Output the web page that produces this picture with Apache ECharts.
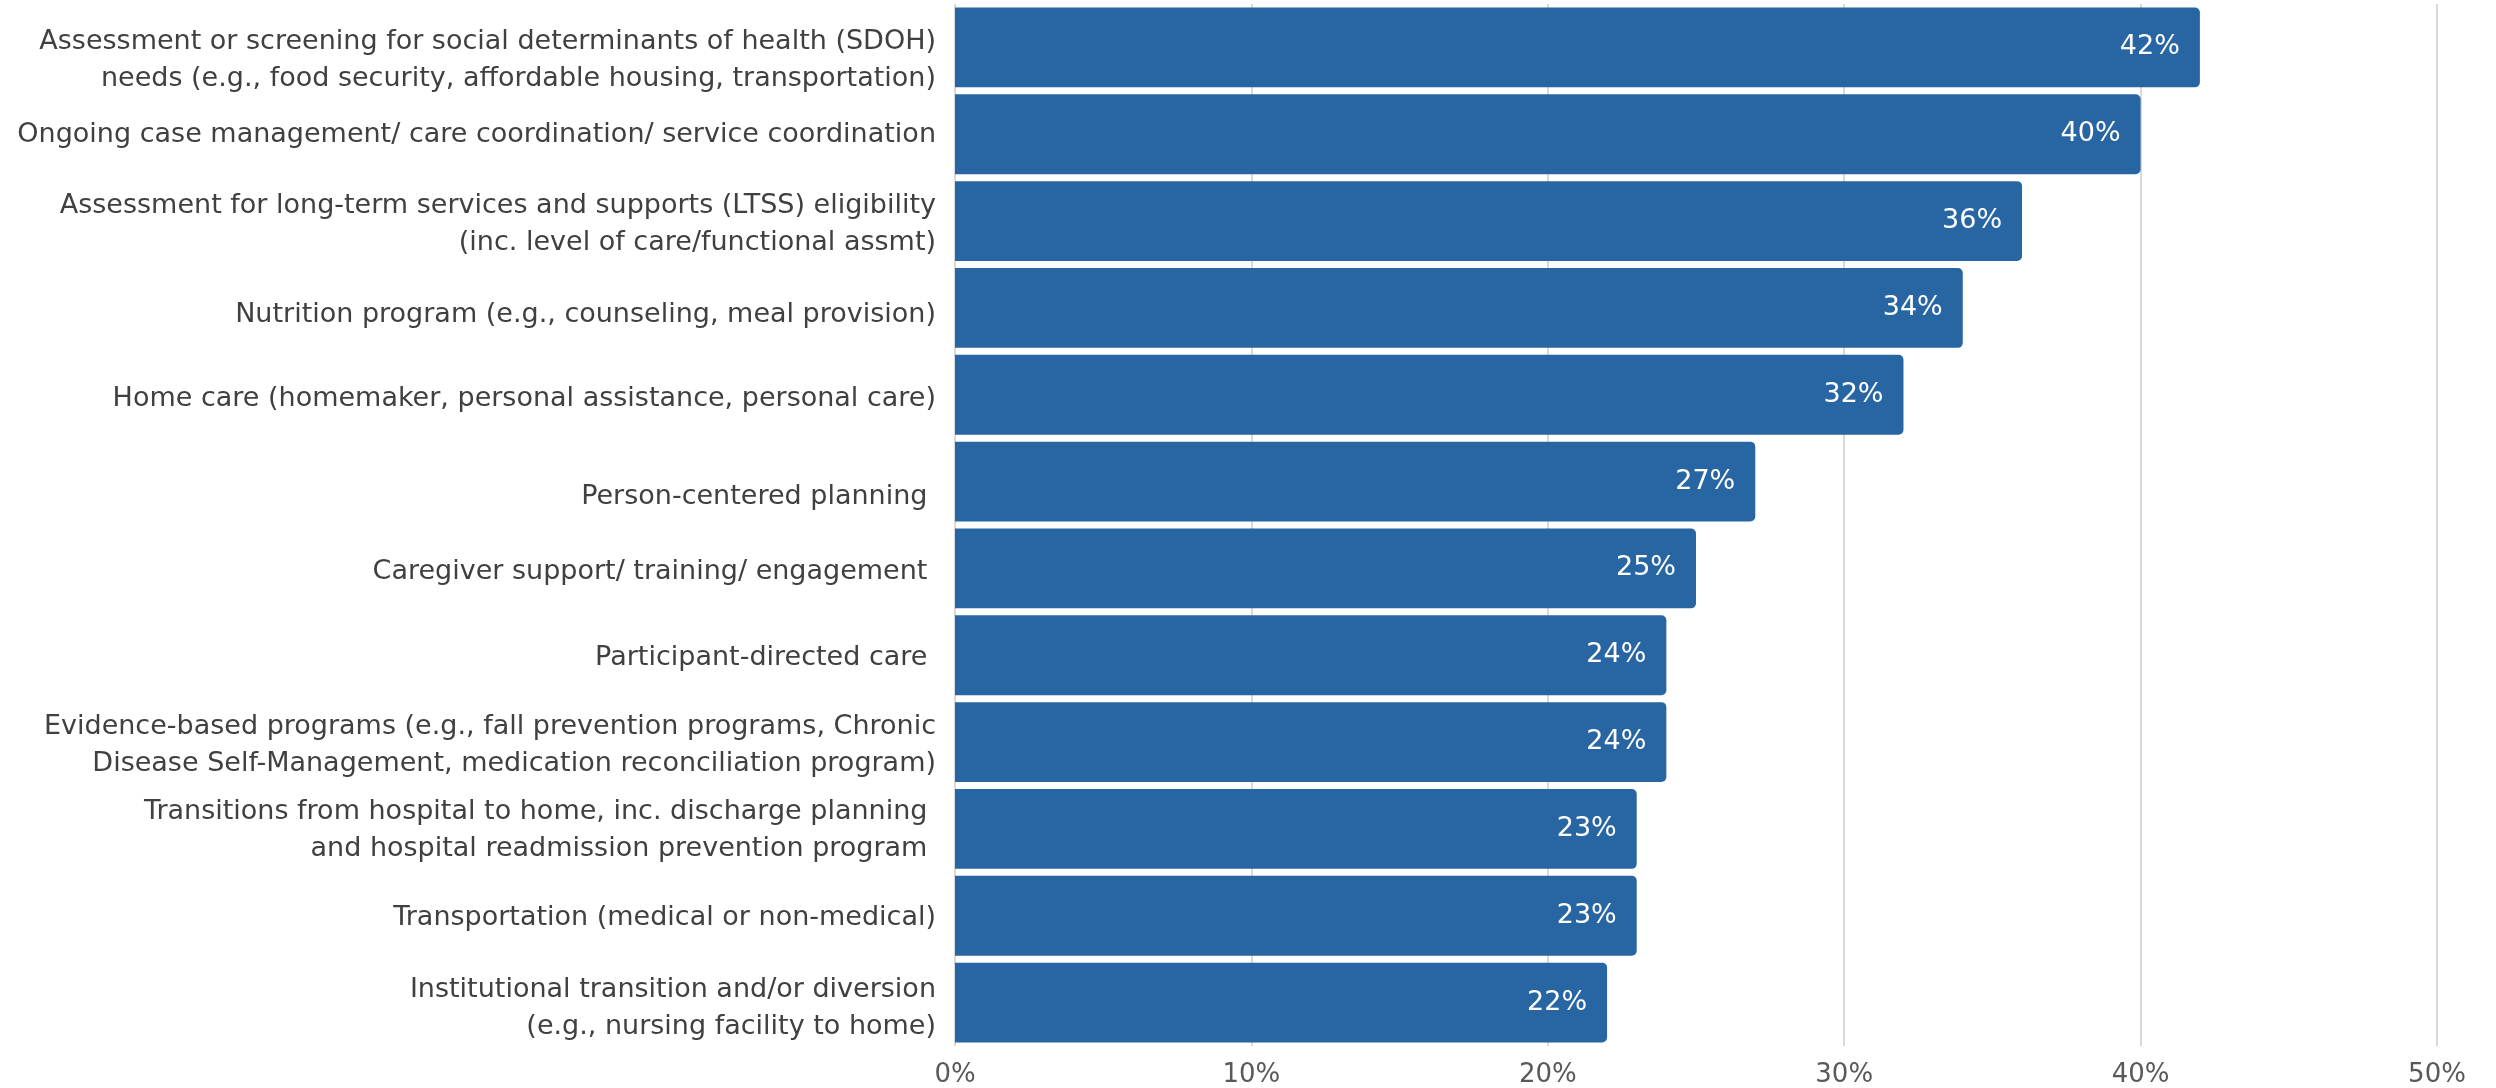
<!DOCTYPE html>
<html>
<head>
<meta charset="utf-8">
<script src="https://cdn.jsdelivr.net/npm/echarts@6/dist/echarts.min.js"></script>
<style>
  html, body { margin: 0; padding: 0; background: #fff; }
  #chart { width: 2496px; height: 1088px; }
</style>
</head>
<body>
<div id="chart"></div>
<script>
// services, top to bottom
var categories = [
    'Assessment or screening for social determinants of health (SDOH)\nneeds (e.g., food security, affordable housing, transportation)',
    'Ongoing case management/ care coordination/ service coordination',
    'Assessment for long-term services and supports (LTSS) eligibility\n(inc. level of care/functional assmt)',
    'Nutrition program (e.g., counseling, meal provision)',
    'Home care (homemaker, personal assistance, personal care)',
    'Person-centered planning ',
    'Caregiver support/ training/ engagement ',
    'Participant-directed care ',
    'Evidence-based programs (e.g., fall prevention programs, Chronic\nDisease Self-Management, medication reconciliation program)',
    'Transitions from hospital to home, inc. discharge planning \nand hospital readmission prevention program ',
    'Transportation (medical or non-medical)',
    'Institutional transition and/or diversion\n(e.g., nursing facility to home)'
];
var values = [42, 40, 36, 34, 32, 27, 25, 24, 24, 23, 23, 22];
var xTicks = [0, 10, 20, 30, 40, 50];

var chart = echarts.init(document.getElementById('chart'));
var fontName = '"DejaVu Sans", sans-serif';

// a few labels sit lower than their bar in the original (px)
var labelDrop = [13, 1, 3, 7, 4, 15, 4, 3, 3, 2, 2, 6];
var richStyles = {t: {}};
labelDrop.forEach(function (d, i) {
    richStyles['g' + i] = {fontSize: 1, lineHeight: d * 2};
});

var option = {
    animation: false,
    grid: {
        left: 955,
        right: 59,
        top: 4,
        bottom: 42,
        containLabel: false,
        outerBoundsMode: 'none'
    },
    xAxis: {
        type: 'value',
        min: xTicks[0],
        max: xTicks[xTicks.length - 1],
        interval: 10,
        axisLine: {show: false},
        axisTick: {show: false},
        splitLine: {lineStyle: {color: '#d9d9d9', width: 2}},
        axisLabel: {
            margin: 16,
            color: '#595959',
            fontFamily: fontName,
            fontSize: 26,
            formatter: '{value}%'
        }
    },
    yAxis: {
        type: 'category',
        inverse: true,
        data: categories,
        axisLine: {show: false},
        axisTick: {show: false},
        axisLabel: {
            margin: 19,
            color: '#404040',
            fontFamily: fontName,
            fontSize: 27,
            lineHeight: 37,
            align: 'right',
            formatter: function (value, index) {
                var lines = value.split('\n');
                var txt = '{t|' + lines.join('}\n{t|') + '}';
                if (labelDrop[index] > 0) {
                    txt = '{g' + index + '| }\n' + txt;
                }
                return txt;
            },
            rich: richStyles
        }
    },
    series: [{
        name: 'value',
        type: 'bar',
        data: values,
        barCategoryGap: '8%',
        itemStyle: {
            color: '#2765a3',
            borderRadius: [0, 5, 5, 0]
        },
        label: {
            show: true,
            position: 'insideRight',
            distance: 20,
            color: '#ffffff',
            fontFamily: fontName,
            fontSize: 27,
            formatter: '{c}%'
        }
    }]
};
chart.setOption(option);
</script>
</body>
</html>
